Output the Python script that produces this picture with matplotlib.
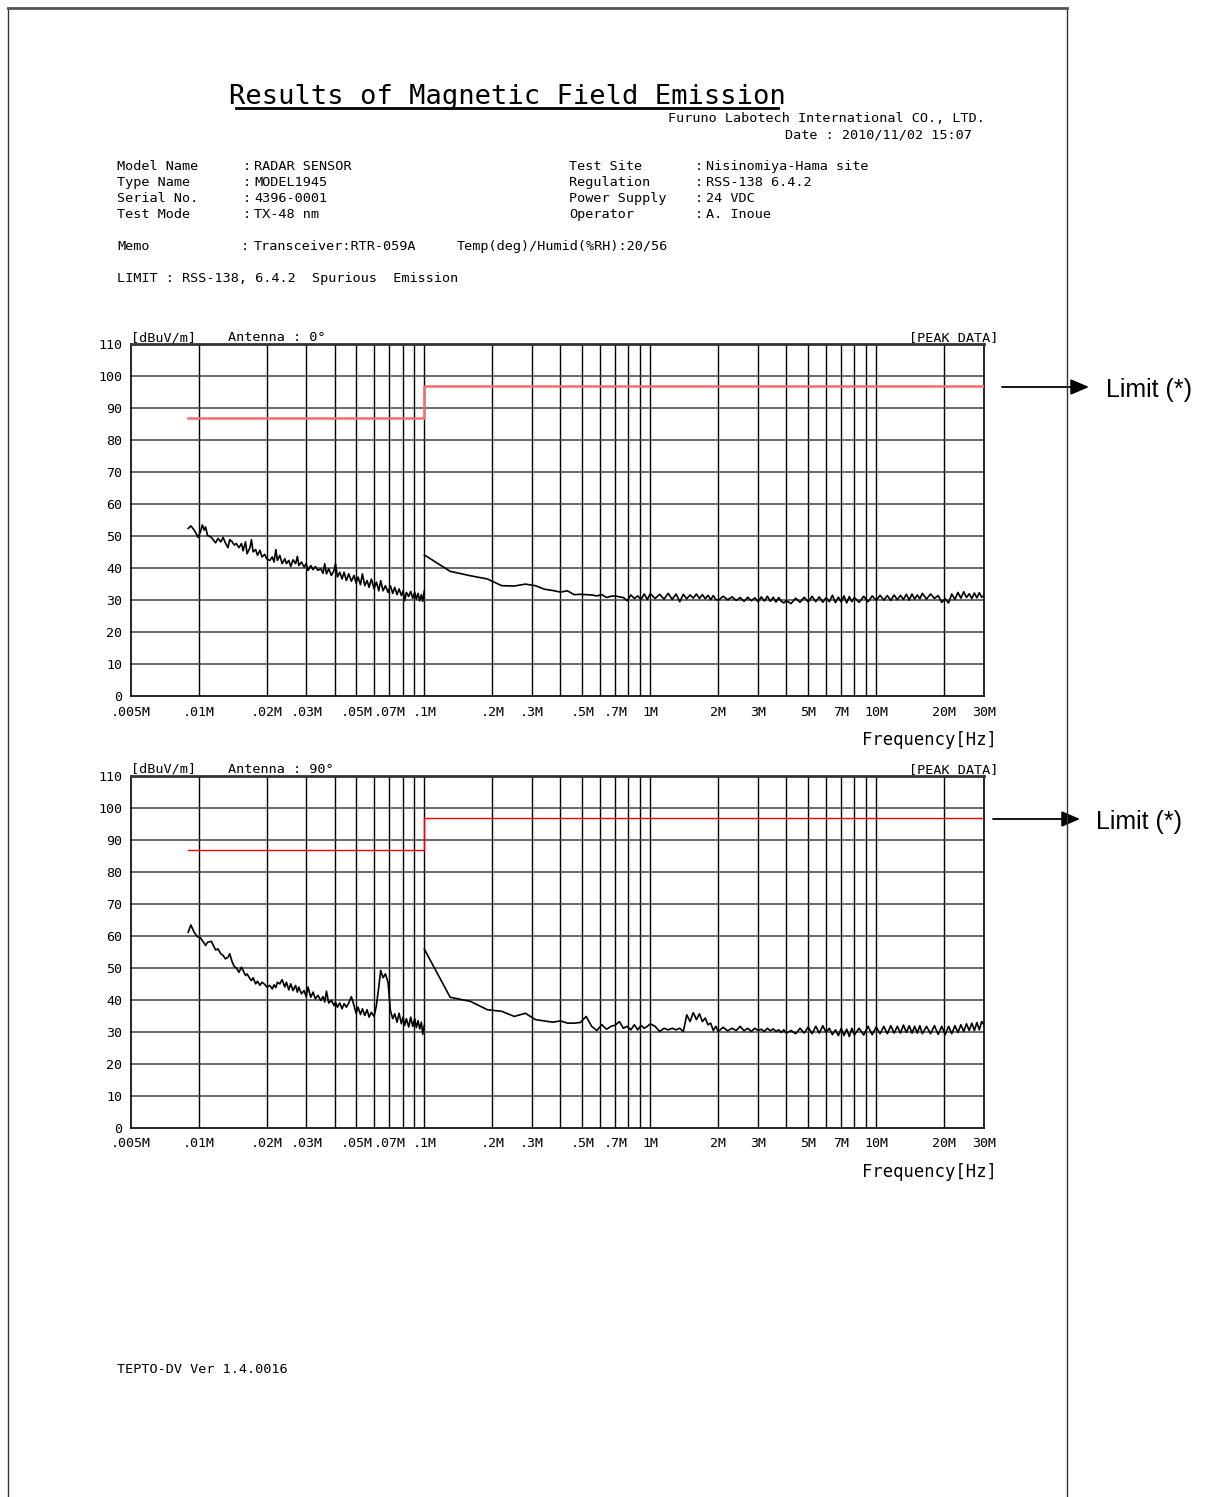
import matplotlib
matplotlib.use('Agg')
import matplotlib.pyplot as plt
from matplotlib.lines import Line2D
from matplotlib.patches import FancyArrowPatch
from matplotlib.ticker import NullLocator

W, H = 1209, 1497

# sweep points (same for both antenna positions)
freq_low_khz = [9.0, 9.25, 9.57, 9.8, 9.96, 10.2, 10.4, 10.6, 10.75, 10.95,
                11.4, 11.9, 12.2, 12.55, 12.85, 13.15, 13.5, 13.75, 14.1, 14.4,
                14.7, 15.1, 15.5, 15.75, 16.15, 16.4, 16.9, 17.15, 17.45, 17.9,
                18.25, 18.7, 19.1, 19.65, 20.05, 20.7, 21.2, 21.6, 22.0, 22.35,
                22.9, 23.45, 24.1, 24.5, 25.1, 25.6, 26.2, 26.9, 27.4, 27.8,
                28.55, 29.35, 29.95, 30.55, 31.4, 32.15, 32.9, 33.8, 34.75, 35.6,
                36.2, 36.85, 37.7, 38.75, 39.8, 40.4, 41.2, 42.2, 43.2, 44.1,
                45.15, 46.25, 47.5, 48.8, 49.85, 50.85, 52.1, 53.15, 54.45, 55.75,
                56.9, 58.25, 59.85, 61.3, 62.8, 64.05, 65.6, 67.2, 69.05, 70.7,
                72.4, 73.9, 75.65, 77.25, 79.1, 80.45, 81.85, 83.2, 85.2, 87.0,
                88.75, 90.6, 92.15, 93.7, 95.35, 96.95, 98.3, 99.9]

freq_high_mhz = [0.10, 0.13, 0.16, 0.19, 0.22, 0.25, 0.28, 0.31, 0.34, 0.37,
                 0.40, 0.43, 0.46, 0.49, 0.52, 0.55, 0.58, 0.61, 0.64, 0.67,
                 0.70, 0.73, 0.76, 0.79, 0.82, 0.85, 0.88, 0.91, 0.94, 0.97,
                 1.00, 1.05, 1.10, 1.15, 1.20, 1.25, 1.30, 1.35, 1.40, 1.45,
                 1.50, 1.55, 1.60, 1.65, 1.70, 1.75, 1.80, 1.85, 1.90, 1.95,
                 2.00, 2.1, 2.2, 2.3, 2.4, 2.5, 2.6, 2.7, 2.8, 2.9,
                 3.0, 3.1, 3.2, 3.3, 3.4, 3.5, 3.6, 3.7, 3.8, 3.9,
                 4.0, 4.2, 4.4, 4.6, 4.8, 5.0, 5.2, 5.4, 5.6, 5.8,
                 6.0, 6.2, 6.4, 6.6, 6.8, 7.0, 7.2, 7.4, 7.6, 7.8,
                 8.0, 8.4, 8.8, 9.2, 9.6, 10.0, 10.4, 10.8, 11.2, 11.6,
                 12.0, 12.4, 12.8, 13.2, 13.6, 14.0, 14.4, 14.8, 15.2, 15.6,
                 16.0, 16.7, 17.4, 18.1, 18.8, 19.5, 20.2, 20.9, 21.6, 22.3,
                 23.0, 23.7, 24.4, 25.1, 25.8, 26.5, 27.2, 27.9, 28.6, 29.3,
                 30.0]

# peak data, dBuV/m, antenna 0 deg
peak_0_low = [52.4, 53.2, 51.9, 50.6, 49.6, 51.4, 53.5, 51.9, 52.9, 50.3,
              49.6, 47.9, 49.3, 48.2, 49.6, 47.9, 46.4, 48.9, 48.2, 47.2,
              47.7, 46.4, 47.7, 45.4, 48.2, 44.5, 46.4, 48.9, 45.1, 45.8,
              44.0, 45.6, 43.5, 44.3, 42.9, 42.4, 43.5, 41.9, 45.8, 42.4,
              44.0, 41.4, 42.9, 41.4, 42.4, 40.5, 42.6, 41.4, 43.7, 40.8,
              41.9, 40.3, 41.4, 39.3, 40.8, 39.5, 40.5, 39.3, 39.8, 38.4,
              41.4, 38.2, 39.8, 37.7, 39.3, 41.4, 37.2, 38.7, 36.6, 38.7,
              36.1, 38.2, 35.9, 37.7, 35.3, 37.2, 34.8, 38.2, 34.5, 36.1,
              34.0, 36.6, 33.5, 35.6, 32.9, 36.1, 32.9, 34.5, 32.4, 34.5,
              32.1, 34.0, 31.7, 33.5, 31.4, 32.9, 29.8, 32.4, 31.1, 32.7,
              30.6, 32.4, 30.3, 32.1, 29.8, 31.7, 29.6, 32.9]
peak_0_high = [44.1, 39.0, 37.6, 36.6, 34.5, 34.4, 35.0, 34.5, 33.4, 33.0,
               32.5, 32.9, 31.7, 31.8, 31.7, 31.6, 31.3, 31.7, 30.8, 31.2,
               31.3, 31.0, 30.8, 29.8, 31.6, 30.5, 31.3, 30.2, 31.9, 30.2,
               32.0, 30.5, 31.8, 30.3, 32.1, 30.2, 31.9, 29.5, 31.8, 30.4,
               31.6, 30.6, 31.9, 30.5, 31.7, 30.4, 31.5, 30.1, 31.4, 30.2,
               29.9, 31.2, 30.1, 31.0, 29.9, 30.8, 29.6, 30.9, 29.8, 30.7,
               29.5, 31.0, 29.7, 31.2, 29.6, 30.9, 29.4, 30.8, 29.6, 29.1,
               29.8, 28.9, 30.6, 29.3, 30.9, 29.4, 31.2, 29.5, 31.0, 29.3,
               30.8, 29.5, 31.5, 29.2, 30.9, 29.4, 31.3, 29.1, 31.1, 29.5,
               30.8, 29.3, 31.2, 29.5, 31.3, 29.9, 31.5, 30.0, 31.4, 29.9,
               31.6, 30.1, 31.5, 30.2, 31.8, 30.0, 31.9, 30.3, 31.6, 30.4,
               32.1, 30.3, 31.9, 30.5, 31.4, 29.3, 30.4, 29.1, 31.9, 30.2,
               32.4, 30.6, 32.6, 30.8, 32.0, 30.5, 32.2, 30.7, 32.3, 30.9,
               31.4]

# peak data, dBuV/m, antenna 90 deg
peak_90_low = [61.1, 63.4, 61.1, 60.1, 59.6, 59.4, 58.5, 57.7, 57.0, 58.0,
               58.3, 55.6, 55.9, 54.4, 53.9, 52.8, 53.3, 54.4, 51.8, 50.4,
               50.0, 48.6, 50.2, 49.2, 47.6, 48.1, 46.6, 46.0, 46.9, 45.0,
               45.8, 44.5, 45.5, 44.8, 44.0, 44.5, 43.4, 44.7, 43.8, 45.5,
               45.0, 46.3, 44.0, 45.5, 43.1, 45.0, 42.9, 44.5, 42.4, 44.0,
               41.9, 42.9, 41.0, 44.0, 40.8, 42.4, 40.3, 41.4, 39.8, 41.0,
               39.3, 42.7, 39.0, 39.8, 38.2, 39.3, 37.7, 39.0, 37.2, 38.8,
               37.7, 39.0, 41.0, 38.2, 35.8, 37.7, 35.4, 37.2, 35.1, 36.9,
               34.6, 36.1, 34.8, 38.2, 44.0, 49.2, 46.9, 48.1, 45.5, 36.7,
               34.1, 35.6, 33.0, 35.8, 32.5, 34.6, 32.0, 34.1, 31.5, 34.6,
               31.7, 34.1, 31.3, 33.5, 30.9, 33.0, 29.2, 32.0]
peak_90_high = [55.8, 40.8, 39.5, 36.9, 36.4, 34.8, 35.8, 33.8, 33.4, 33.0,
                33.4, 32.7, 32.7, 32.9, 34.8, 31.7, 30.4, 32.2, 30.8, 31.7,
                32.1, 33.2, 31.1, 31.7, 30.6, 32.2, 30.6, 32.0, 31.1, 31.7,
                32.5, 31.7, 30.1, 31.1, 30.6, 31.1, 30.6, 31.1, 30.1, 35.3,
                33.2, 36.0, 33.8, 35.6, 33.2, 34.3, 32.2, 32.7, 30.4, 31.7,
                30.1, 31.4, 30.3, 31.1, 30.4, 31.7, 30.3, 31.1, 30.1, 31.1,
                30.4, 30.8, 30.1, 31.1, 30.3, 30.9, 30.1, 30.6, 29.8, 30.6,
                29.6, 30.4, 29.4, 31.1, 29.6, 31.5, 29.4, 31.7, 29.6, 31.9,
                29.8, 31.1, 29.1, 30.6, 28.8, 31.1, 28.8, 30.8, 28.5, 31.1,
                29.0, 31.1, 29.0, 31.7, 29.1, 31.5, 29.4, 31.7, 29.4, 31.9,
                29.6, 31.7, 29.6, 32.1, 29.8, 31.9, 29.6, 31.7, 29.6, 31.9,
                29.4, 31.7, 29.4, 31.9, 29.2, 31.7, 29.1, 31.7, 29.4, 31.9,
                29.8, 32.2, 30.1, 32.5, 30.4, 32.7, 30.4, 32.9, 30.6, 33.2,
                32.2]

# RSS-138 6.4.2 limit
limit_freq_mhz = [0.009, 0.1, 0.1, 30]
limit_level = [87, 87, 97, 97]

xtick_vals = [0.005, 0.01, 0.02, 0.03, 0.05, 0.07, 0.1, 0.2, 0.3, 0.5, 0.7,
              1, 2, 3, 5, 7, 10, 20, 30]
xtick_text = ['.005M', '.01M', '.02M', '.03M', '.05M', '.07M', '.1M', '.2M',
              '.3M', '.5M', '.7M', '1M', '2M', '3M', '5M', '7M', '10M', '20M', '30M']
grid_mhz = [m * 10.0 ** e for e in (-2, -1, 0, 1) for m in range(1, 10) if m * 10.0 ** e < 30]

left_labels = ['Model Name', 'Type Name', 'Serial No.', 'Test Mode']
left_values = ['RADAR SENSOR', 'MODEL1945', '4396-0001', 'TX-48 nm']
right_labels = ['Test Site', 'Regulation', 'Power Supply', 'Operator']
right_values = ['Nisinomiya-Hama site', 'RSS-138 6.4.2', '24 VDC', 'A. Inoue']

plt.rcParams['font.family'] = 'DejaVu Sans Mono'
MONO = 9.7

fig = plt.figure(figsize=(W / 100, H / 100), dpi=100)


def fx(x):
    return x / W


def fy(y):
    return 1 - y / H


def txt(x, y, s, size=MONO, ha='left', **kw):
    fig.text(fx(x), fy(y), s, fontsize=size, ha=ha, va='baseline', **kw)


# page outline
fig.add_artist(Line2D([fx(8), fx(8)], [fy(8), fy(H)], lw=1.0, color='#333333'))
fig.add_artist(Line2D([fx(1067), fx(1067)], [fy(8), fy(H)], lw=1.0, color='#333333'))
fig.add_artist(Line2D([fx(8), fx(1067)], [fy(8), fy(8)], lw=2.0, color='#555555'))

# header
txt(507, 104, 'Results of Magnetic Field Emission', size=19.5, ha='center')
fig.add_artist(Line2D([fx(236), fx(778)], [fy(108), fy(108)], lw=2.0, color='black'))
txt(985, 122, 'Furuno Labotech International CO., LTD.', ha='right')
txt(972, 138, 'Date : 2010/11/02 15:07', ha='right')
for i in range(4):
    y = 170 + 16 * i
    txt(117, y, left_labels[i])
    txt(243, y, ':')
    txt(254, y, left_values[i])
    txt(569, y, right_labels[i])
    txt(695, y, ':')
    txt(706, y, right_values[i])
txt(117, 250, 'Memo')
txt(241, 250, ':')
txt(254, 250, 'Transceiver:RTR-059A')
txt(457, 250, 'Temp(deg)/Humid(%RH):20/56')
txt(117, 282, 'LIMIT : RSS-138, 6.4.2  Spurious  Emission')
txt(117, 1373, 'TEPTO-DV Ver 1.4.0016')


def panel(top, angle, low_vals, high_vals, lim_color, lim_lw):
    ax = fig.add_axes([fx(130.5), fy(top + 351.7), 853.5 / W, 351.7 / H])
    ax.set_xscale('log')
    ax.set_xlim(0.005, 30)
    ax.set_ylim(0, 110)
    for g in grid_mhz:
        ax.axvline(g, color='black', lw=1.0, zorder=1)
    for lv in range(10, 110, 10):
        ax.axhline(lv, color='#444444', lw=1.1, zorder=1)
    ax.plot(limit_freq_mhz, limit_level, color=lim_color, lw=lim_lw, zorder=3)
    ax.plot([f / 1000 for f in freq_low_khz], low_vals, color='black', lw=1.2, zorder=4)
    ax.plot(freq_high_mhz, high_vals, color='black', lw=1.2, zorder=4)
    ax.set_xticks(xtick_vals)
    ax.set_xticklabels(xtick_text)
    ax.xaxis.set_minor_locator(NullLocator())
    ax.set_yticks(range(0, 111, 10))
    ax.tick_params(axis='both', length=0, labelsize=9.6)
    ax.tick_params(axis='x', pad=7)
    ax.tick_params(axis='y', pad=6)
    for s in ax.spines.values():
        s.set_color('black')
        s.set_linewidth(1.2)
    ax.spines['top'].set_linewidth(2.0)
    ax.spines['top'].set_color('#333333')
    txt(131, top - 3, '[dBuV/m]')
    txt(228, top - 3, 'Antenna : %d°' % angle)
    txt(998, top - 3, '[PEAK DATA]', ha='right')
    txt(997, top + 351.7 + 49, 'Frequency[Hz]', size=12.4, ha='right')
    return ax


panel(344.3, 0, peak_0_low, peak_0_high, '#f26d6d', 1.8)
panel(776.0, 90, peak_90_low, peak_90_high, '#ff0000', 1.0)

# limit call-outs
for tail, head, tx, ty in [((1002, 387), (1089, 387), 1106, 397),
                           ((993, 819), (1080, 819), 1096, 829)]:
    fig.add_artist(FancyArrowPatch((fx(tail[0]), fy(tail[1])), (fx(head[0]), fy(head[1])),
                                   transform=fig.transFigure,
                                   arrowstyle='-|>,head_length=0.7,head_width=0.3',
                                   mutation_scale=16, lw=1.3, color='black',
                                   shrinkA=0, shrinkB=0))
    fig.text(fx(tx), fy(ty), 'Limit (*)', fontsize=18, family='Liberation Sans',
             ha='left', va='baseline')

fig.savefig('out.png', dpi=100, facecolor='white')
